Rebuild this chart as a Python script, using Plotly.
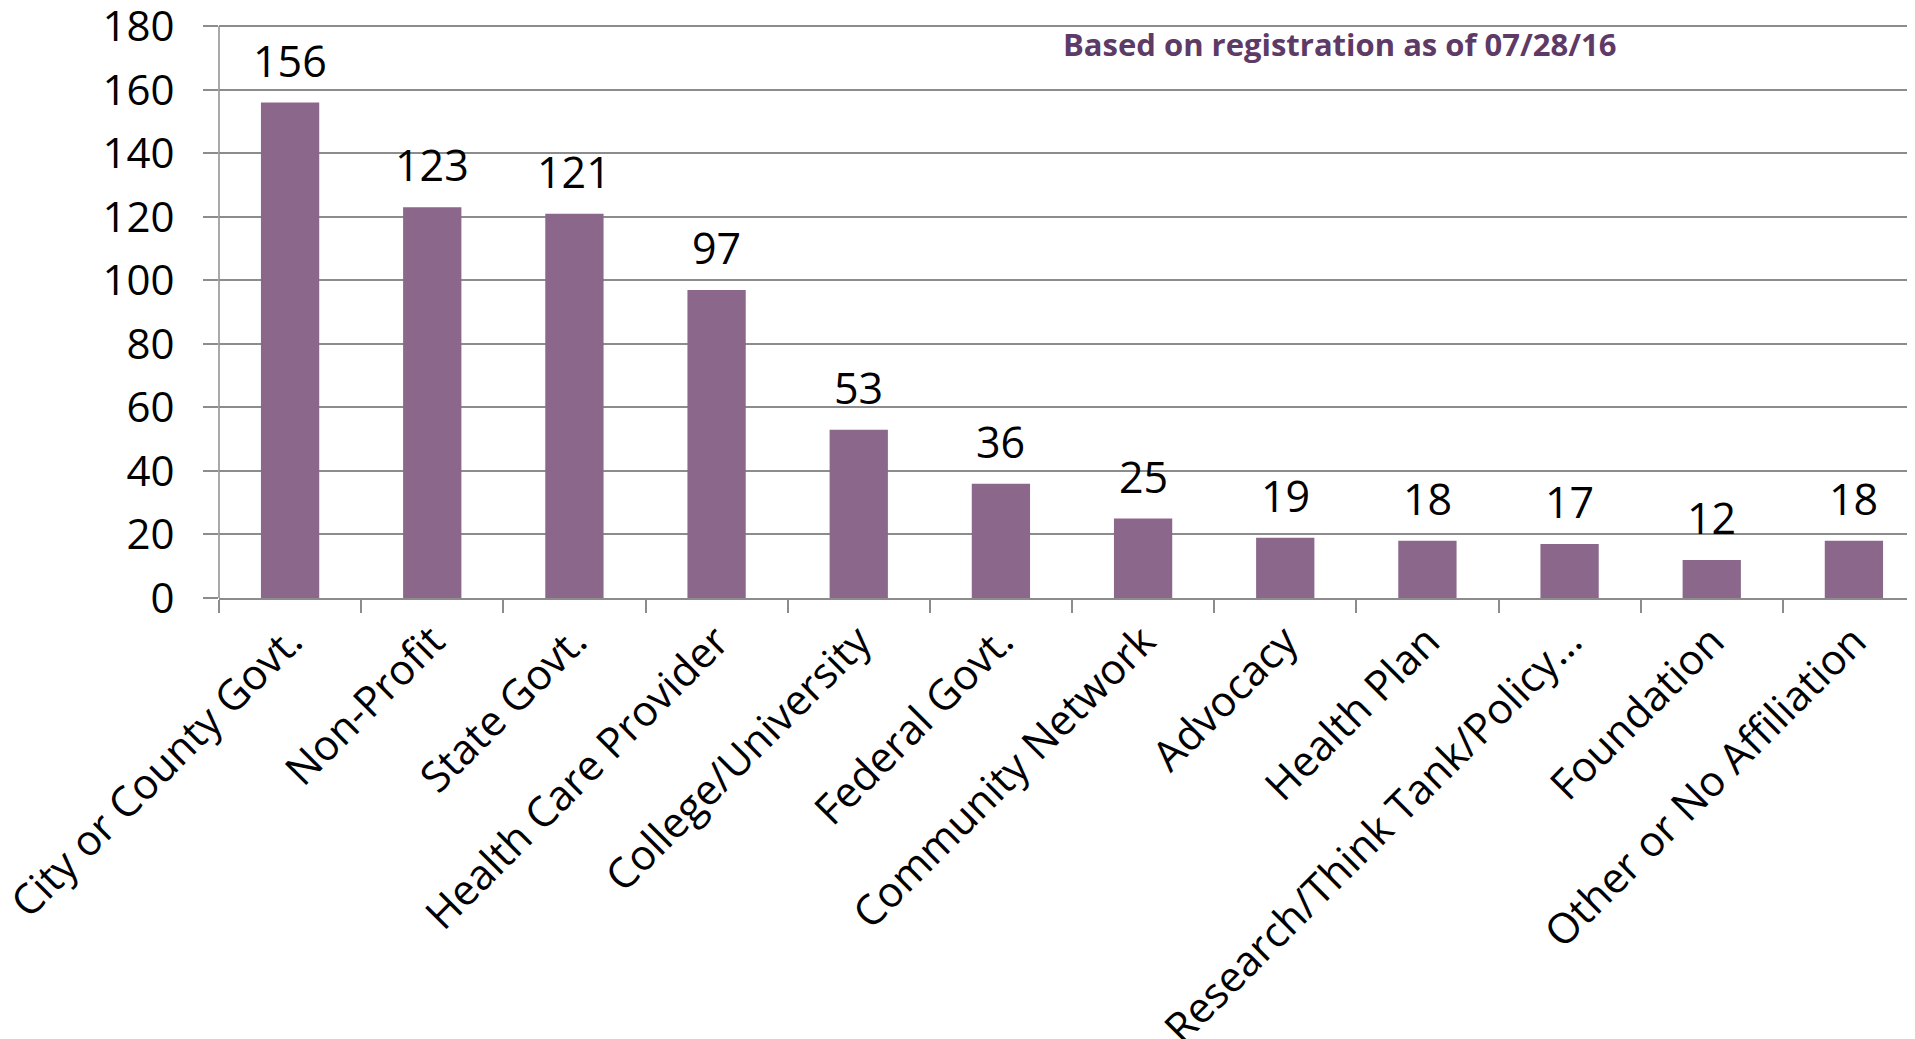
import plotly.graph_objects as go

categories = ["City or County Govt.", "Non-Profit", "State Govt.", "Health Care Provider",
              "College/University", "Federal Govt.", "Community Network", "Advocacy",
              "Health Plan", "Research/Think Tank/Policy…", "Foundation", "Other or No Affiliation"]
values = [156, 123, 121, 97, 53, 36, 25, 19, 18, 17, 12, 18]
y_ticks = [0, 20, 40, 60, 80, 100, 120, 140, 160, 180]
note_text = "Based on registration as of 07/28/16"

FONT = "Open Sans"
BAR = "#8B678C"
GRID = "#8C8C8C"

fig = go.Figure()
fig.add_trace(go.Bar(x=categories, y=values, marker=dict(color=BAR, line=dict(width=0)),
                     hoverinfo="x+y"))

for c, v in zip(categories, values):
    fig.add_annotation(x=c, y=v, text=str(v), showarrow=False, yanchor="bottom",
                       yshift=11, font=dict(family=FONT, size=43, color="black"))

fig.add_annotation(xref="paper", yref="y", x=0.657, y=174.5, xanchor="center",
                   yanchor="middle", text="<b>" + note_text + "</b>", showarrow=False,
                   font=dict(family=FONT, size=31, color="#5E3A66"))

# y-axis line from 0 up to the top tick
fig.add_shape(type="line", xref="paper", yref="y", x0=0, x1=0, y0=y_ticks[0], y1=y_ticks[-1],
              line=dict(color=GRID, width=1.5), layer="above")

fig.update_layout(
    width=1917, height=1039,
    margin=dict(l=211, r=0, t=12, b=449, autoexpand=False),
    paper_bgcolor="white", plot_bgcolor="white",
    showlegend=False, bargap=0.59,
    font=dict(family=FONT, color="black"),
)
fig.update_xaxes(
    type="category", range=[-0.5, 11.5], tickangle=-45,
    showline=True, linecolor=GRID, linewidth=1.5,
    ticks="outside", ticklen=13, tickcolor=GRID, tickwidth=1.5,
    tickson="boundaries", showgrid=False, ticklabeloverflow="allow",
    tickfont=dict(family=FONT, size=42, color="black"), automargin=False,
)
fig.update_yaxes(
    range=[0, 182], tickvals=y_ticks, ticktext=[str(t) for t in y_ticks],
    showline=False, ticklabeloverflow="allow",
    ticks="outside", ticklen=15, tickcolor=GRID, tickwidth=1.5,
    showgrid=True, gridcolor=GRID, gridwidth=1.5, zeroline=False,
    ticklabelstandoff=20,
    tickfont=dict(family=FONT, size=42, color="black"), automargin=False,
)

fig.write_html("out.html")
